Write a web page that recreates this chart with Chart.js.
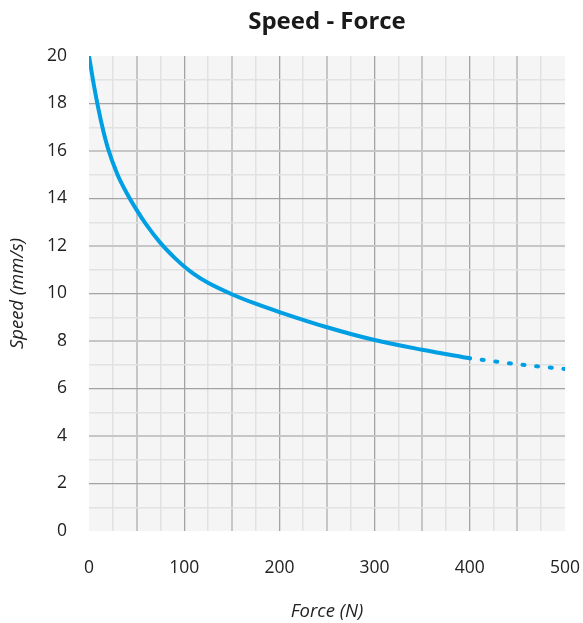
<!DOCTYPE html>
<html>
<head>
<meta charset="utf-8">
<title>Speed - Force</title>
<script src="https://cdn.jsdelivr.net/npm/chart.js@4/dist/chart.umd.min.js"></script>
<style>
  html, body { margin: 0; padding: 0; background: #fff; }
  #wrap { width: 583px; height: 623px; }
</style>
</head>
<body>
<div id="wrap"><canvas id="chart"></canvas></div>
<script>
// values
let forceSolid = [0, 5, 10, 15, 20, 30, 40, 50, 60, 75, 90, 100, 110, 125, 150, 175, 200, 250, 300, 350, 400];
let speedSolid = [20, 18.8, 17.75, 16.85, 16.1, 15.0, 14.2, 13.52, 12.91, 12.13, 11.5, 11.14, 10.83, 10.45, 9.97, 9.57, 9.22, 8.58, 8.04, 7.63, 7.27];
let forceDotted = [400, 450, 500];
let speedDotted = [7.27, 7.02, 6.82];

let xTicks = [0, 100, 200, 300, 400, 500];
let yTicks = [0, 2, 4, 6, 8, 10, 12, 14, 16, 18, 20];

const blue = "#009fe3";
const font = "'Open Sans', 'Noto Sans', sans-serif";

function toPoints(xs, ys) {
    return xs.map((x, i) => ({ x: x, y: ys[i] }));
}

// grey plot background
const plotBg = {
    id: "plotBg",
    beforeDraw(chart) {
        const a = chart.chartArea;
        const ctx = chart.ctx;
        ctx.save();
        ctx.fillStyle = "#f5f5f5";
        ctx.fillRect(a.left, a.top, a.right - a.left, a.bottom - a.top);
        ctx.restore();
    }
};

function xGridColor(c) {
    const v = c.tick.value;
    if (v === 0 || v === 500) return "rgba(0,0,0,0)";
    if (v % 100 === 0) return "#a3a3a3";
    if (v % 50 === 0) return "#c6c6c6";
    return "#e2e2e2";
}
function xGridWidth(c) {
    const v = c.tick.value;
    if (v % 100 === 0) return 1.3;
    if (v % 50 === 0) return 2;
    return 1.5;
}
function yGridColor(c) {
    const v = c.tick.value;
    if (v === 0 || v === 20) return "rgba(0,0,0,0)";
    if (v % 4 === 2) return "#a3a3a3";
    if (v % 2 === 0) return "#c6c6c6";
    return "#e2e2e2";
}
function yGridWidth(c) {
    const v = c.tick.value;
    if (v % 4 === 2) return 1.3;
    if (v % 2 === 0) return 2;
    return 1.5;
}

new Chart(document.getElementById("chart"), {
    type: "line",
    data: {
        datasets: [
            {
                data: toPoints(forceSolid, speedSolid),
                borderColor: blue,
                borderWidth: 4,
                pointRadius: 0,
                cubicInterpolationMode: "monotone",
                borderCapStyle: "round"
            },
            {
                data: toPoints(forceDotted, speedDotted),
                borderColor: blue,
                borderWidth: 4,
                pointRadius: 0,
                cubicInterpolationMode: "monotone",
                borderCapStyle: "round",
                borderDash: [2, 11.7],
                borderDashOffset: -12
            }
        ]
    },
    options: {
        responsive: true,
        maintainAspectRatio: false,
        animation: false,
        layout: { padding: { top: 0, right: 18, bottom: 0, left: 0 } },
        plugins: {
            legend: { display: false },
            tooltip: { enabled: false },
            title: {
                display: true,
                text: "Speed - Force",
                fullSize: false,
                color: "#1a1a1a",
                font: { family: font, size: 24, weight: "bold", lineHeight: 1.2 },
                padding: { top: 8, bottom: 19.2 }
            }
        },
        scales: {
            x: {
                type: "linear",
                min: 0,
                max: 500,
                border: { display: false },
                grid: { color: xGridColor, lineWidth: xGridWidth, drawTicks: false },
                ticks: {
                    stepSize: 25,
                    autoSkip: false,
                    maxRotation: 0,
                    padding: 27,
                    color: "#222",
                    font: { family: font, size: 17.5 },
                    callback: v => xTicks.includes(v) ? String(v) : ""
                },
                title: {
                    display: true,
                    text: "Force (N)",
                    color: "#222",
                    font: { family: font, size: 18.5, style: "italic", lineHeight: 1.2 },
                    padding: { top: 0, bottom: 0 }
                },
                afterFit(scale) {
                    scale.height = 92;
                    scale.paddingLeft = 0;
                    scale.paddingRight = 0;
                }
            },
            y: {
                min: 0,
                max: 20,
                border: { display: false },
                grid: { color: yGridColor, lineWidth: yGridWidth, drawTicks: false },
                ticks: {
                    stepSize: 1,
                    autoSkip: false,
                    padding: 22,
                    color: "#222",
                    font: { family: font, size: 17.5 },
                    callback: v => yTicks.includes(v) ? String(v) : ""
                },
                title: {
                    display: true,
                    text: "Speed (mm/s)",
                    color: "#222",
                    font: { family: font, size: 18.5, style: "italic", lineHeight: 1.2 },
                    padding: { top: 7, bottom: 0 }
                },
                afterFit(scale) {
                    scale.width = 89;
                    scale.paddingTop = 0;
                    scale.paddingBottom = 0;
                }
            }
        }
    },
    plugins: [plotBg]
});
</script>
</body>
</html>
